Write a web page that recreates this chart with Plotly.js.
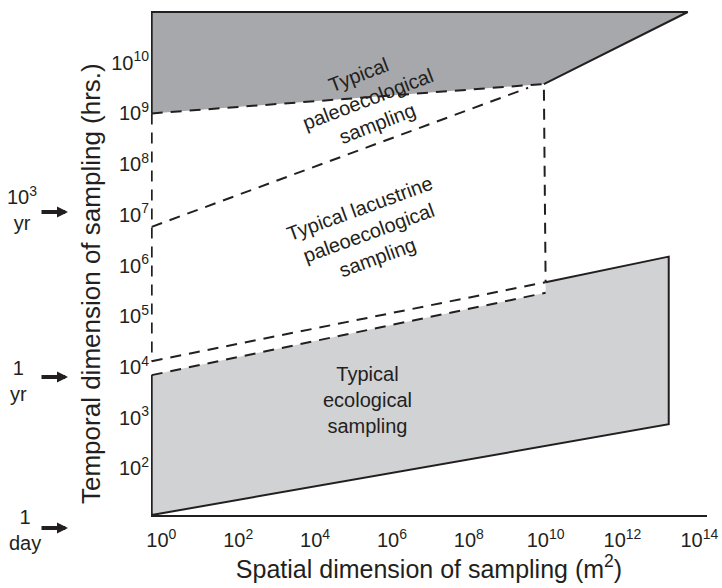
<!DOCTYPE html>
<html>
<head>
<meta charset="utf-8">
<script src="https://cdn.plot.ly/plotly-3.0.1.min.js"></script>
<style>html,body{margin:0;padding:0;background:#fff;}#chart{width:722px;height:588px;}</style>
</head>
<body>
<div id="chart"></div>
<script>
// Tick labels
const xTickVals = [1e0, 1e2, 1e4, 1e6, 1e8, 1e10, 1e12, 1e14];
const xTickText = ['10<sup>0</sup>', '10<sup>2</sup>', '10<sup>4</sup>', '10<sup>6</sup>', '10<sup>8</sup>', '10<sup>10</sup>', '10<sup>12</sup>', '10<sup>14</sup>'];
const yTickVals = [1e1, 1e2, 1e3, 1e4, 1e5, 1e6, 1e7, 1e8, 1e9, 1e10];
const yTickText = ['10<sup>1</sup>', '10<sup>2</sup>', '10<sup>3</sup>', '10<sup>4</sup>', '10<sup>5</sup>', '10<sup>6</sup>', '10<sup>7</sup>', '10<sup>8</sup>', '10<sup>9</sup>', '10<sup>10</sup>'];

// Typical paleoecological sampling (dark region), m^2 and hours
const paleoX = [0.56, 0.56, 5.0e13, 9.0e9];
const paleoY = [1.0e9, 1.0e11, 1.0e11, 3.8e9];
// Solid outline of paleoecological region
const paleoEdgeX = [0.56, 0.56, 5.0e13, 9.0e9];
const paleoEdgeY = [1.0e9, 1.0e11, 1.0e11, 3.8e9];
// Dashed lower edge of paleo region + right edge of lacustrine region
const lacTopX = [0.56, 9.0e9, 1.0e10];
const lacTopY = [1.0e9, 3.8e9, 4.7e5];
// Dashed left edge of lacustrine region
const lacLeftX = [0.56, 0.56];
const lacLeftY = [1.0e9, 1.3e4];
// Dashed inner line (lower bound of paleo sampling)
const paleoInnerX = [0.56, 3.5e9];
const paleoInnerY = [5.8e6, 3.2e9];
// Dashed lower lines of lacustrine region
const lacLow1X = [0.56, 1.0e10];
const lacLow1Y = [1.3e4, 4.7e5];
const lacLow2X = [0.56, 1.0e10];
const lacLow2Y = [6.9e3, 2.9e5];

// Typical ecological sampling (light region)
const ecoX = [0.56, 1.0e10, 1.0e10, 1.6e13, 1.6e13, 0.56];
const ecoY = [6.9e3, 2.9e5, 4.7e5, 1.5e6, 7.4e2, 12];
const ecoEdgeX = [1.0e10, 1.6e13, 1.6e13, 0.56, 0.56];
const ecoEdgeY = [4.7e5, 1.5e6, 7.4e2, 12, 6.9e3];

const INK = '#231f20';
const FONT = 'Liberation Sans, Arial, Helvetica, sans-serif';
const DASH = '11px,8px';

function fillTrace(x, y, color) {
  return {x: x, y: y, type: 'scatter', mode: 'lines', fill: 'toself', fillcolor: color,
          line: {width: 0, color: color}, hoverinfo: 'skip', showlegend: false};
}
function lineTrace(x, y, dash) {
  return {x: x, y: y, type: 'scatter', mode: 'lines',
          line: {width: 2, color: INK, dash: dash || 'solid'}, hoverinfo: 'skip', showlegend: false};
}

const traces = [
  fillTrace(paleoX, paleoY, '#a7a8ab'),
  fillTrace(ecoX, ecoY, '#d1d2d4'),
  lineTrace(paleoEdgeX, paleoEdgeY),
  lineTrace(ecoEdgeX, ecoEdgeY),
  lineTrace(lacTopX, lacTopY, DASH),
  lineTrace(lacLeftX, lacLeftY, DASH),
  lineTrace(paleoInnerX, paleoInnerY, DASH),
  lineTrace(lacLow1X, lacLow1Y, DASH),
  lineTrace(lacLow2X, lacLow2Y, DASH)
];

function px2x(px) { return (px - 151) / 556; }
function py2y(py) { return (515 - py) / 504; }

const txtFont = {family: FONT, size: 20, color: INK};
function label(px, py, text, extra) {
  return Object.assign({xref: 'paper', yref: 'paper', x: px2x(px), y: py2y(py), text: text,
    showarrow: false, xanchor: 'center', yanchor: 'middle', font: txtFont}, extra || {});
}
function arrow(py) {
  return {xref: 'paper', yref: 'paper', x: px2x(68), y: py2y(py), ax: -28, ay: 0, text: '',
    showarrow: true, arrowhead: 2, arrowsize: 0.55, arrowwidth: 4, arrowcolor: INK};
}
const annotations = [
  label(368, 99, 'Typical<br>paleoecological<br>sampling', {textangle: -21}),
  label(368, 233, 'Typical lacustrine<br>paleoecological<br>sampling', {textangle: -20}),
  label(367, 400, 'Typical<br>ecological<br>sampling'),
  // Y axis title
  label(91, 284, 'Temporal dimension of sampling (hrs.)', {textangle: -90, font: {family: FONT, size: 26, color: INK}}),
  // Left time markers
  label(22, 208, '10<sup>3</sup><br>yr'),
  label(18, 381, '1<br>yr'),
  label(25, 530, '1<br>day'),
  arrow(212), arrow(377), arrow(528)
];

const layout = {
  width: 722, height: 588,
  margin: {l: 151, r: 15, t: 11, b: 73, pad: 0},
  paper_bgcolor: '#ffffff', plot_bgcolor: '#ffffff',
  font: {family: FONT, color: INK},
  showlegend: false,
  xaxis: {
    type: 'log', range: [-0.27, 14.2], autorange: false,
    tickmode: 'array', tickvals: xTickVals, ticktext: xTickText,
    tickfont: {family: FONT, size: 20, color: INK},
    ticks: '', ticklabelstandoff: 6, showgrid: false, zeroline: false,
    showline: true, linecolor: INK, linewidth: 2,
    title: {text: 'Spatial dimension of sampling (m<sup>2</sup>)', font: {family: FONT, size: 25, color: INK}, standoff: 10},
    automargin: false
  },
  yaxis: {
    type: 'log', range: [1.08, 11.02], autorange: false,
    tickmode: 'array', tickvals: yTickVals, ticktext: yTickText,
    tickfont: {family: FONT, size: 20, color: INK},
    ticks: '', ticklabelstandoff: 1, showgrid: false, zeroline: false, showline: false,
    automargin: false
  },
  annotations: annotations
};

Plotly.newPlot('chart', traces, layout, {staticPlot: true, displayModeBar: false});
</script>
</body>
</html>
